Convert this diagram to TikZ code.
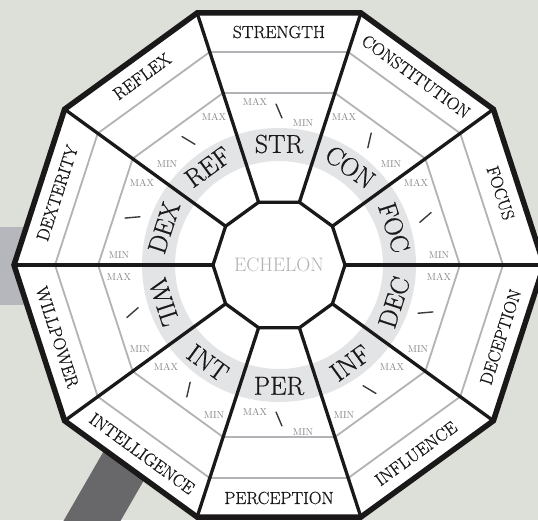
\documentclass[tikz,border=0pt]{standalone}
\usepackage{fontspec}
\newfontfamily\lblfont{Latin Modern Roman}[FakeBold=0.6]
\usetikzlibrary{calc}
\definecolor{bg}{RGB}{221,224,217}
\definecolor{bandgray}{RGB}{182,183,188}
\definecolor{handlegray}{RGB}{104,104,106}
\definecolor{ringgray}{RGB}{227,228,230}
\definecolor{guidegray}{RGB}{178,178,183}
\definecolor{ink}{RGB}{26,24,24}
\definecolor{mmgray}{RGB}{135,135,138}
\definecolor{echgray}{RGB}{178,178,180}
\begin{document}
\begin{tikzpicture}[x=1pt,y=1pt,
  outerlbl/.style={font=\lblfont\fontsize{17.5}{19}\selectfont, text=ink, inner sep=0pt},
  abbr/.style={font=\lblfont\fontsize{26}{28}\selectfont, text=ink, inner sep=0pt},
  mm/.style={font=\fontsize{10}{11}\selectfont, text=mmgray, inner sep=0pt},
  spoke/.style={line width=3.3pt, draw=ink},
  guide/.style={line width=1.8pt, draw=guidegray},
  tickmark/.style={line width=1.4pt, draw=ink!85, line cap=round},
  rim/.style={line width=5.5pt, draw=ink, line join=miter}]
\useasboundingbox (-279,-255) rectangle (259,265);
\fill[bg] (-279,-255) rectangle (259,265);
% left band and handle
\fill[bandgray] (-279,-40) rectangle (-150,38);
\fill[handlegray] (-219,-262) -- (-162,-262) -- (-98,-151) -- (-155,-151) -- cycle;
% white body
\coordinate (O) at (0,0);
\fill[white] (0:265) -- (36:265) -- (72:265) -- (108:265) -- (144:265) -- (180:265) -- (216:265) -- (252:265) -- (288:265) -- (324:265) -- cycle;
% grey ring
\fill[ringgray, even odd rule] (O) circle (137) (O) circle (104);
% guide lines
\foreach \t in {18,54,...,342} {
  \draw[guide] ({\t-18}:224) -- ({\t+18}:224);
  \draw[guide] ({\t-18}:180.9) -- ({\t+18}:180.9);
}
% spokes
\foreach \a in {0,36,...,324} {
  \coordinate (in\a) at (\a:66);
  \coordinate (out\a) at (\a:265);
  \draw[spoke] (in\a) -- (out\a);
}
% inner decagon
\draw[spoke, fill=white, line join=miter] (in0) -- (in36) -- (in72) -- (in108) -- (in144) -- (in180) -- (in216) -- (in252) -- (in288) -- (in324) -- cycle;
% outer rim
\draw[rim] (out0) -- (out36) -- (out72) -- (out108) -- (out144) -- (out180) -- (out216) -- (out252) -- (out288) -- (out324) -- cycle;
% centre label
\node[font=\fontsize{19.5}{21}\selectfont, text=echgray, inner sep=0pt] (ech) at (0,0) {ECHELON};
% sector labels and ticks
\foreach \nm/\ab/\t in {STRENGTH/STR/90, CONSTITUTION/CON/54, FOCUS/FOC/18, DECEPTION/DEC/-18, INFLUENCE/INF/-54, PERCEPTION/PER/-90, INTELLIGENCE/INT/-126, WILLPOWER/WIL/-162, DEXTERITY/DEX/162, REFLEX/REF/126} {
  \pgfmathsetmacro\rot{\t>0 ? \t-90 : \t+90}
  \node[outerlbl, rotate=\rot] (L\ab) at (\t:233) {\nm};
  \node[abbr, rotate=\rot] (A\ab) at (\t:121) {\ab};
  \coordinate (T\ab) at (\t:154);
  \draw[tickmark] ($(T\ab)+({\rot-67}:7.5)$) -- ($(T\ab)+({\rot+113}:7.5)$);
}
% MAX / MIN
\foreach \ab/\xa/\ya/\xi/\yi in {STR/-24/163/24/142, CON/65/148/112/101, FOC/137/82/160/10, DEC/160/-12/139/-84, INF/113/-102/65/-150, PER/-24/-147/24/-167, INT/-113/-102/-65/-150, WIL/-160/-12/-139/-84, DEX/-137/82/-160/10, REF/-65/148/-112/101} {
  \node[mm] (MX\ab) at (\xa,\ya) {MAX};
  \node[mm] (MN\ab) at (\xi,\yi) {MIN};
}
\end{tikzpicture}
\end{document}
